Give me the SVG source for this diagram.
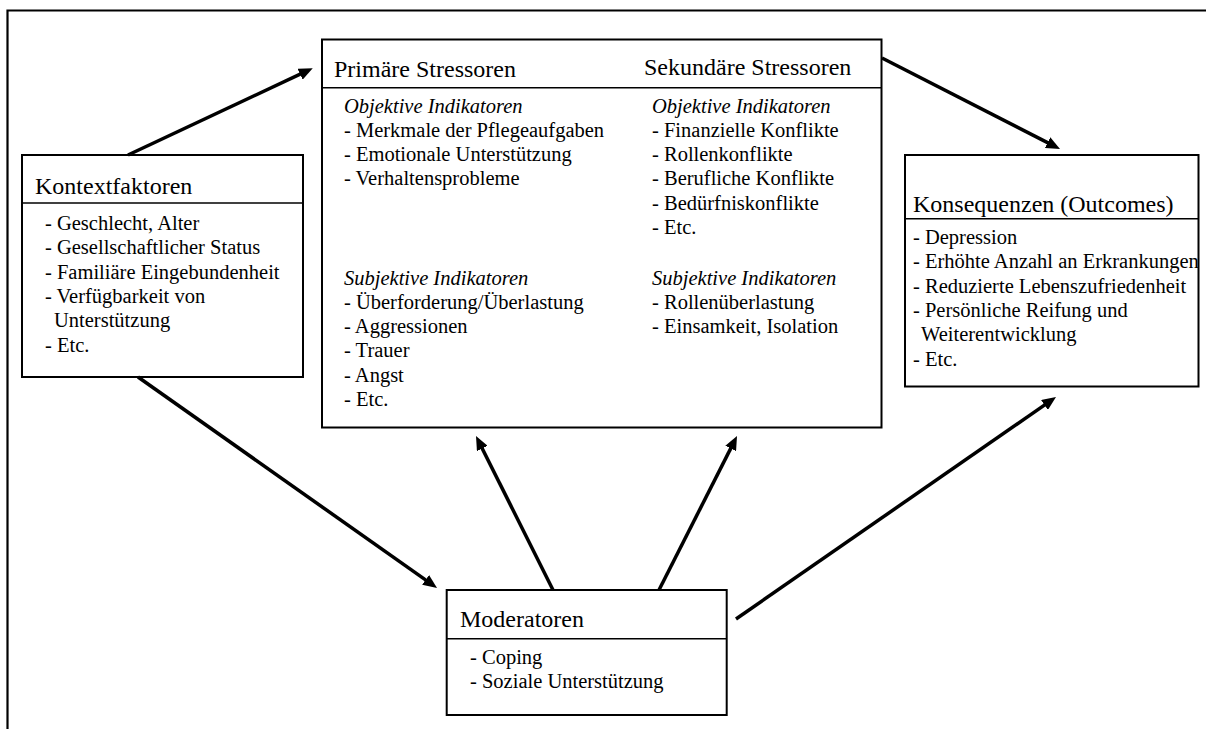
<svg xmlns="http://www.w3.org/2000/svg" width="1206" height="729" viewBox="0 0 1206 729">
<style>
.box{fill:#fff;stroke:#000;stroke-width:2}
.div{stroke:#000;stroke-width:1.6}
.frame{stroke:#000;stroke-width:2.2;fill:none}
.t{font-family:"Liberation Serif","Times New Roman",serif;font-size:24px;fill:#000}
.i{font-family:"Liberation Serif","Times New Roman",serif;font-size:20.5px;fill:#000}
.it{font-style:italic}
.conn line{stroke:#000;stroke-width:3.5;marker-end:url(#ah)}
</style>
<defs>
<marker id="ah" viewBox="0 0 14 12" refX="6" refY="6" markerWidth="14" markerHeight="12" markerUnits="userSpaceOnUse" orient="auto">
<path d="M0,0 L14,6 L0,12 z" fill="#000"/>
</marker>
</defs>
<rect width="1206" height="729" fill="#fff"/>
<path class="frame" d="M7.5,729 V10.5 H1206"/>

<g id="kontext">
<rect class="box" x="22" y="155" width="281" height="222"/>
<line class="div" x1="22" y1="203" x2="303" y2="203"/>
<text class="t" x="35" y="194">Kontextfaktoren</text>
<text class="i" x="45" y="230">- Geschlecht, Alter</text>
<text class="i" x="45" y="254.3">- Gesellschaftlicher Status</text>
<text class="i" x="45" y="278.6">- Familiäre Eingebundenheit</text>
<text class="i" x="45" y="302.9">- Verfügbarkeit von</text>
<text class="i" x="54" y="327.2">Unterstützung</text>
<text class="i" x="45" y="351.5">- Etc.</text>
</g>

<g id="stressoren">
<rect class="box" x="322" y="39.5" width="559.5" height="388"/>
<line class="div" x1="322" y1="87.7" x2="881.5" y2="87.7"/>
<text class="t" x="334" y="77">Primäre Stressoren</text>
<text class="t" x="644" y="75">Sekundäre Stressoren</text>
<text class="i it" x="344" y="112.5">Objektive Indikatoren</text>
<text class="i" x="344" y="136.8">- Merkmale der Pflegeaufgaben</text>
<text class="i" x="344" y="161.1">- Emotionale Unterstützung</text>
<text class="i" x="344" y="185.4">- Verhaltensprobleme</text>
<text class="i it" x="344" y="284.5">Subjektive Indikatoren</text>
<text class="i" x="344" y="308.8">- Überforderung/Überlastung</text>
<text class="i" x="344" y="333.1">- Aggressionen</text>
<text class="i" x="344" y="357.4">- Trauer</text>
<text class="i" x="344" y="381.7">- Angst</text>
<text class="i" x="344" y="406">- Etc.</text>
<text class="i it" x="652" y="112.5">Objektive Indikatoren</text>
<text class="i" x="652" y="136.8">- Finanzielle Konflikte</text>
<text class="i" x="652" y="161.1">- Rollenkonflikte</text>
<text class="i" x="652" y="185.4">- Berufliche Konflikte</text>
<text class="i" x="652" y="209.7">- Bedürfniskonflikte</text>
<text class="i" x="652" y="234">- Etc.</text>
<text class="i it" x="652" y="284.5">Subjektive Indikatoren</text>
<text class="i" x="652" y="308.8">- Rollenüberlastung</text>
<text class="i" x="652" y="333.1">- Einsamkeit, Isolation</text>
</g>

<g id="konsequenzen">
<rect class="box" x="905" y="155" width="293.5" height="231.5"/>
<line class="div" x1="905" y1="218.7" x2="1198.5" y2="218.7"/>
<text class="t" x="913" y="211.5">Konsequenzen (Outcomes)</text>
<text class="i" x="913" y="244">- Depression</text>
<text class="i" x="913" y="268.3">- Erhöhte Anzahl an Erkrankungen</text>
<text class="i" x="913" y="292.6">- Reduzierte Lebenszufriedenheit</text>
<text class="i" x="913" y="316.9">- Persönliche Reifung und</text>
<text class="i" x="921" y="341.2">Weiterentwicklung</text>
<text class="i" x="913" y="365.5">- Etc.</text>
</g>

<g id="moderatoren">
<rect class="box" x="446.7" y="590" width="280" height="125"/>
<line class="div" x1="446.7" y1="638.7" x2="726.7" y2="638.7"/>
<text class="t" x="460" y="627">Moderatoren</text>
<text class="i" x="470" y="663.5">- Coping</text>
<text class="i" x="470" y="688">- Soziale Unterstützung</text>
</g>

<g id="connectors" class="conn">
<line x1="128" y1="155" x2="305.5" y2="71.7"/>
<line x1="882" y1="58" x2="1052.9" y2="145.4"/>
<line x1="138" y1="377" x2="430.5" y2="583.4"/>
<line x1="553" y1="590" x2="479.6" y2="443.2"/>
<line x1="659" y1="590" x2="733.4" y2="443.1"/>
<line x1="736" y1="619" x2="1049.4" y2="401.6"/>
</g>
</svg>
